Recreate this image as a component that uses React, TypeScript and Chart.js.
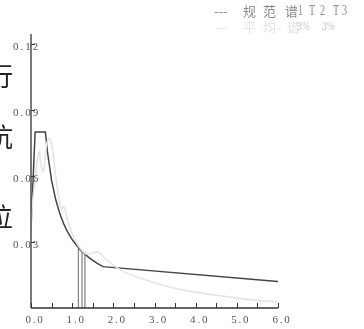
import React, { useEffect, useRef } from "react";
import { Chart, registerables } from "chart.js";

Chart.register(...registerables);

// Code spectrum (规范谱): period T (s) and coefficient
const codePeriods = [0, 0.1, 0.35, 0.4, 0.5, 0.6, 0.7, 0.8, 0.9, 1.0, 1.2, 1.4, 1.6, 1.75, 6.0];
const codeValues = [0.036, 0.08, 0.08, 0.0709, 0.058, 0.0493, 0.0429, 0.038, 0.0342, 0.0311, 0.0264, 0.023, 0.0204, 0.0188, 0.012];

// Average spectrum (平均谱)
const avgPeriods = [0, 0.03, 0.06, 0.1, 0.15, 0.2, 0.25, 0.3, 0.35, 0.4, 0.45, 0.5, 0.55, 0.6, 0.65, 0.7, 0.75, 0.8, 0.85, 0.9, 1.0, 1.1, 1.2, 1.3, 1.4, 1.5, 1.6, 1.7, 1.8, 2.0, 2.2, 2.5, 3.0, 3.5, 4.0, 4.5, 5.0, 5.5, 6.0];
const avgValues = [0.034, 0.046, 0.052, 0.058, 0.067, 0.071, 0.064, 0.062, 0.07, 0.076, 0.077, 0.075, 0.068, 0.06, 0.053, 0.048, 0.045, 0.046, 0.043, 0.039, 0.034, 0.030, 0.027, 0.025, 0.0245, 0.025, 0.0255, 0.0245, 0.0225, 0.0195, 0.017, 0.0145, 0.0115, 0.009, 0.0072, 0.0058, 0.0045, 0.0035, 0.0028];

// Period markers T1, T2, T3
const markerPeriods = [1.15, 1.24, 1.31];
const markerHeights = [0.0286, 0.0264, 0.0255];

// Axis ticks
const xTickValues = [0, 0.5, 1, 1.5, 2, 2.5, 3, 3.5, 4, 4.5, 5, 5.5, 6];
const xLabelValues = [0, 1, 2, 3, 4, 5, 6];
const xLabels = ["0.0", "1.0", "2.0", "3.0", "4.0", "5.0", "6.0"];
const yTickValues = [0.03, 0.06, 0.09, 0.12];
const yLabels = ["0.03", "0.06", "0.09", "0.12"];

// Legend texts
const legendRow1 = ["---", "规", "范", "谱", "1", "T", "2", "T", "3"];
const legendRow2 = ["—", "平", "均", "-", "谱", "3%", "3%"];
const sideChars = ["行", "抗", "位"];

const legendRow1X = [214, 243, 263, 285, 298, 309, 320, 333, 342];
const legendRow2X = [215, 243, 263, 277, 287, 297, 322];
const sideCharY = [76, 137, 217];

const isLatin = (t: string) => /^[0-9A-Z%]+$/.test(t);

const drawNarrow = (ctx: any, t: string, x: number, y: number, font: string, sx: number) => {
  ctx.save();
  ctx.translate(x, y);
  ctx.scale(sx, 1);
  ctx.font = font;
  ctx.fillText(t, 0, 0);
  ctx.restore();
};

const overlay = {
  id: "overlay",
  afterDraw(chart: any) {
    const ctx = chart.ctx;
    const xs = chart.scales.x;
    const ys = chart.scales.y;
    const x0 = xs.getPixelForValue(0);
    const yb = ys.getPixelForValue(0);
    ctx.save();
    // axes
    ctx.strokeStyle = "#333";
    ctx.lineWidth = 1.3;
    ctx.beginPath();
    ctx.moveTo(x0, yb);
    ctx.lineTo(x0, chart.chartArea.top + 1);
    ctx.moveTo(x0, yb);
    ctx.lineTo(xs.getPixelForValue(6), yb);
    ctx.stroke();
    ctx.lineWidth = 1;
    ctx.beginPath();
    xTickValues.forEach((v) => {
      const px = Math.round(xs.getPixelForValue(v)) + 0.5;
      ctx.moveTo(px, yb);
      ctx.lineTo(px, yb - 5);
    });
    yTickValues.forEach((v) => {
      const py = Math.round(ys.getPixelForValue(v)) + 0.5;
      ctx.moveTo(x0, py);
      ctx.lineTo(x0 + 4, py);
    });
    ctx.stroke();
    // tick labels
    ctx.fillStyle = "#555";
    ctx.font = "11px 'Liberation Serif'";
    ctx.textBaseline = "middle";
    (ctx as any).letterSpacing = "1.8px";
    ctx.textAlign = "left";
    xLabelValues.forEach((v, i) => {
      const w = ctx.measureText(xLabels[i]).width;
      ctx.fillText(xLabels[i], xs.getPixelForValue(v) + 3 - w / 2 + 1, 320);
    });
    (ctx as any).letterSpacing = "2px";
    yTickValues.forEach((v, i) => {
      ctx.fillText(yLabels[i], 13, ys.getPixelForValue(v) + 3);
    });
    (ctx as any).letterSpacing = "0px";
    // legend
    legendRow1.forEach((t, i) => {
      ctx.fillStyle = "#888";
      if (isLatin(t)) {
        drawNarrow(ctx, t, legendRow1X[i], 11, "14px 'Liberation Serif'", 0.72);
      } else {
        ctx.font = "13px 'Noto Sans CJK SC'";
        ctx.fillText(t, legendRow1X[i], 11);
      }
    });
    legendRow2.forEach((t, i) => {
      ctx.fillStyle = t === "3%" ? "#c4c4c4" : "#e2e2e2";
      if (isLatin(t)) {
        drawNarrow(ctx, t, legendRow2X[i], 27, "12px 'Liberation Serif'", 0.8);
      } else {
        ctx.font = "13px 'Noto Sans CJK SC'";
        ctx.fillText(t, legendRow2X[i], 27);
      }
    });
    // side characters (partly off the left edge)
    ctx.font = "26px 'Noto Sans CJK SC'";
    ctx.fillStyle = "#222";
    ctx.textAlign = "center";
    sideChars.forEach((c, i) => ctx.fillText(c, 0, sideCharY[i]));
    ctx.restore();
  },
};

export default function App() {
  const ref = useRef<HTMLCanvasElement>(null);
  useEffect(() => {
    if (!ref.current) return;
    const markerSets = markerPeriods.map((p, i) => ({
      data: [
        { x: p, y: 0 },
        { x: p, y: markerHeights[i] },
      ],
      borderColor: "#666",
      borderWidth: 1,
      pointRadius: 0,
      fill: false,
    }));
    const chart = new Chart(ref.current, {
      type: "line",
      data: {
        datasets: [
          {
            data: avgPeriods.map((p, i) => ({ x: p, y: avgValues[i] })),
            borderColor: "#e4e4e4",
            borderWidth: 1.6,
            pointRadius: 0,
            tension: 0.3,
            fill: false,
          },
          ...markerSets,
          {
            data: codePeriods.map((p, i) => ({ x: p, y: codeValues[i] })),
            borderColor: "#444",
            borderWidth: 1.5,
            pointRadius: 0,
            tension: 0,
            fill: false,
          },
        ],
      },
      options: {
        animation: false,
        responsive: false,
        maintainAspectRatio: false,
        layout: { padding: { left: 31, right: 86, top: 33, bottom: 21 } },
        plugins: { legend: { display: false }, tooltip: { enabled: false } },
        scales: {
          x: { type: "linear", min: 0, max: 6, display: false },
          y: { type: "linear", min: 0, max: 0.125, display: false },
        },
      },
      plugins: [overlay],
    });
    return () => chart.destroy();
  }, []);
  return (
    <div style={{ position: "fixed", left: 0, top: 0, width: 364, height: 329, background: "#fff" }}>
      <canvas ref={ref} width={364} height={329} style={{ display: "block" }} />
    </div>
  );
}
